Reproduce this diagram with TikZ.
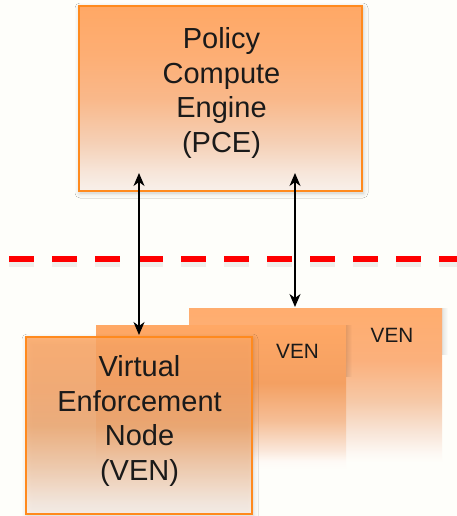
\documentclass[tikz,border=0pt]{standalone}
\usepackage{fontspec}
\setmainfont{Liberation Sans}
\usetikzlibrary{arrows.meta,shadows.blur,fadings}
\definecolor{bg}{RGB}{254,254,250}
\definecolor{obrd}{RGB}{255,138,30}
\definecolor{otop}{RGB}{255,168,101}
\definecolor{txt}{RGB}{26,26,26}
\definecolor{dashred}{RGB}{255,0,0}
% PCE shading
\definecolor{pA}{RGB}{248,240,234}
\definecolor{pB}{RGB}{247,230,218}
\definecolor{pC}{RGB}{245,208,182}
\definecolor{pD}{RGB}{249,184,138}
\definecolor{pE}{RGB}{253,174,116}
\pgfdeclareverticalshading{pceshade}{100bp}{color(0bp)=(pA); color(25bp)=(pA); color(30bp)=(pB); color(38bp)=(pC); color(50bp)=(pD); color(62bp)=(pE); color(75bp)=(otop); color(100bp)=(otop)}
% front VEN shading
\definecolor{fA}{RGB}{249,240,234}
\definecolor{fB}{RGB}{248,234,224}
\definecolor{fC}{RGB}{243,202,170}
\definecolor{fD}{RGB}{240,168,112}
\definecolor{fE}{RGB}{246,164,104}
\pgfdeclareverticalshading{frontshade}{100bp}{color(0bp)=(fA); color(25bp)=(fA); color(28bp)=(fB); color(38bp)=(fC); color(50bp)=(fD); color(60bp)=(fE); color(75bp)=(otop); color(100bp)=(otop)}
% middle VEN shading
\definecolor{mB}{RGB}{254,250,246}
\definecolor{mC}{RGB}{250,230,216}
\definecolor{mD}{RGB}{245,190,150}
\definecolor{mE}{RGB}{244,160,98}
\pgfdeclareverticalshading{midshade}{100bp}{color(0bp)=(bg); color(25bp)=(bg); color(28bp)=(mB); color(32bp)=(mC); color(42bp)=(mD); color(55bp)=(mE); color(75bp)=(otop); color(100bp)=(otop)}
% back VEN shading
\definecolor{bT}{RGB}{255,173,110}
\definecolor{bB}{RGB}{253,248,243}
\definecolor{bC}{RGB}{248,228,214}
\definecolor{bD}{RGB}{246,200,166}
\definecolor{bE}{RGB}{251,176,124}
\pgfdeclareverticalshading{backshade}{100bp}{color(0bp)=(bg); color(25bp)=(bg); color(28bp)=(bB); color(35bp)=(bC); color(45bp)=(bD); color(58bp)=(bE); color(75bp)=(bT); color(100bp)=(bT)}
\tikzset{
  boxbase/.style={rectangle, inner sep=0pt, outer sep=0pt},
  bigtext/.style={font=\fontsize{29}{34.5}\selectfont, text=txt, align=center, inner sep=0pt},
  smalltext/.style={font=\fontsize{20.7}{24}\selectfont, text=txt, inner sep=0pt},
  softshadow/.style={blur shadow={shadow xshift=1pt, shadow yshift=-2pt, shadow blur radius=5pt, shadow opacity=22}},
  sideshadow/.style={fill=black, fill opacity=0.10, path fading=east},
  arr/.style={line width=1.2pt, black, {Stealth[length=13pt,width=11pt,inset=4pt]}-{Stealth[length=13pt,width=11pt,inset=4pt]}},
  dashline/.style={line width=5.5pt, dashred, dash pattern=on 25pt off 18pt}
}
\begin{document}
\begin{tikzpicture}[x=1pt,y=-1pt]
\fill[bg] (0,0) rectangle (457,516);
\useasboundingbox (0,0) rectangle (457,516);
% PCE
\node[boxbase, softshadow, shading=pceshade, draw=obrd, line width=2.5pt,
      minimum width=283pt, minimum height=185pt] (pce) at (220.5,98.5) {};
\node[bigtext, anchor=base] (pcetext) at (221.5,152) {Policy\\Compute\\Engine\\(PCE)};
% dashed boundary
\coordinate (dl) at (9,259);
\coordinate (dr) at (470,259);
\draw[line width=7pt, black, opacity=0.06, dash pattern=on 25pt off 18pt] ([yshift=-4pt]dl) -- ([yshift=-4pt]dr);
\draw[dashline] (dl) -- (dr);
% back VEN
\node[boxbase, shading=backshade, minimum width=253pt, minimum height=154pt] (ven3) at (315.5,385) {};
\fill[sideshadow] (ven3.north east) rectangle ([xshift=6pt,yshift=30pt]ven3.east);
\node[smalltext, anchor=base] (ven3text) at (392,342.7) {VEN};
% middle VEN
\node[boxbase, shading=midshade, minimum width=250pt, minimum height=145pt] (ven2) at (221,397.5) {};
\fill[sideshadow] (ven2.north east) rectangle ([xshift=6pt,yshift=20pt]ven2.east);
\node[smalltext, anchor=base] (ven2text) at (297.5,358.3) {VEN};
% front VEN
\node[boxbase, softshadow, shading=frontshade, fill opacity=0.85, draw=obrd, draw opacity=1, line width=2.5pt,
      minimum width=226pt, minimum height=177pt] (ven1) at (139,425.5) {};
\node[bigtext, anchor=base] (ven1text) at (139.5,480) {Virtual\\Enforcement\\Node\\(VEN)};
% arrows
\coordinate (rtip) at ([xshift=-20.5pt,yshift=1pt]ven3.north);
\draw[arr] ([yshift=18pt]pce.south -| ven1.north) -- ([yshift=2pt]ven1.north);
\draw[arr] ([yshift=18pt]pce.south -| rtip) -- (rtip);
\end{tikzpicture}
\end{document}
